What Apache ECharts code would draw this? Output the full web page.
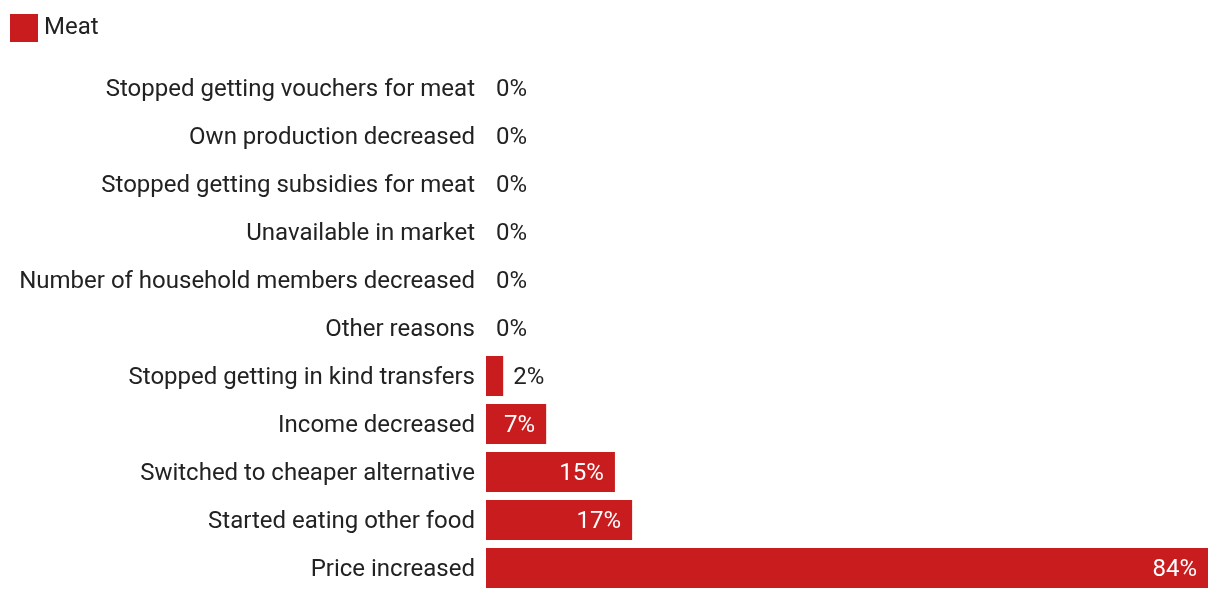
<!DOCTYPE html>
<html>
<head>
<meta charset="utf-8">
<script src="https://cdn.jsdelivr.net/npm/echarts@6/dist/echarts.min.js"></script>
<style>
html,body{margin:0;padding:0;background:#fff;}
#chart{width:1220px;height:600px;}
</style>
</head>
<body>
<div id="chart"></div>
<script>
const categories = [
  "Stopped getting vouchers for meat",
  "Own production decreased",
  "Stopped getting subsidies for meat",
  "Unavailable in market",
  "Number of household members decreased",
  "Other reasons",
  "Stopped getting in kind transfers",
  "Income decreased",
  "Switched to cheaper alternative",
  "Started eating other food",
  "Price increased"
];
const meatValues = [0, 0, 0, 0, 0, 0, 2, 7, 15, 17, 84];
const seriesName = "Meat";

const FONT = "Roboto";
const RED = "#c81c1e";

const chart = echarts.init(document.getElementById('chart'), null, {renderer: 'canvas'});

const cats = categories.slice().reverse();
const vals = meatValues.slice().reverse();

const data = vals.map(v => ({
  value: v,
  label: v >= 5
    ? {position: 'insideRight', distance: 11, color: '#ffffff'}
    : {position: 'right', distance: 10, color: '#222222'}
}));

const richText = {t: {fontFamily: FONT, fontSize: 24, padding: [4, 0, 0, 0]}};

chart.setOption({
  animation: false,
  textStyle: {fontFamily: FONT},
  legend: {
    show: true,
    left: 5,
    top: 9,
    itemWidth: 28,
    itemHeight: 28,
    icon: 'rect',
    textStyle: {fontFamily: FONT, fontSize: 24, color: '#222222', padding: [3,0,0,1]},
    data: [seriesName]
  },
  grid: {
    left: 486,
    right: 12,
    top: 64,
    bottom: 8,
    containLabel: false
  },
  xAxis: {
    type: 'value',
    min: 0,
    max: 84,
    show: false
  },
  yAxis: {
    type: 'category',
    data: cats,
    axisLine: {show: false},
    axisTick: {show: false},
    splitLine: {show: false},
    axisLabel: {
      fontFamily: FONT,
      fontSize: 24,
      color: '#222222',
      margin: 11,
      formatter: v => '{t|' + v + '}',
      rich: richText
    }
  },
  series: [{
    name: seriesName,
    type: 'bar',
    data: data,
    barWidth: 40,
    itemStyle: {color: RED},
    label: {
      show: true,
      fontFamily: FONT,
      fontSize: 24,
      formatter: p => '{t|' + p.value + '%}',
      rich: richText
    }
  }]
});
</script>
</body>
</html>
